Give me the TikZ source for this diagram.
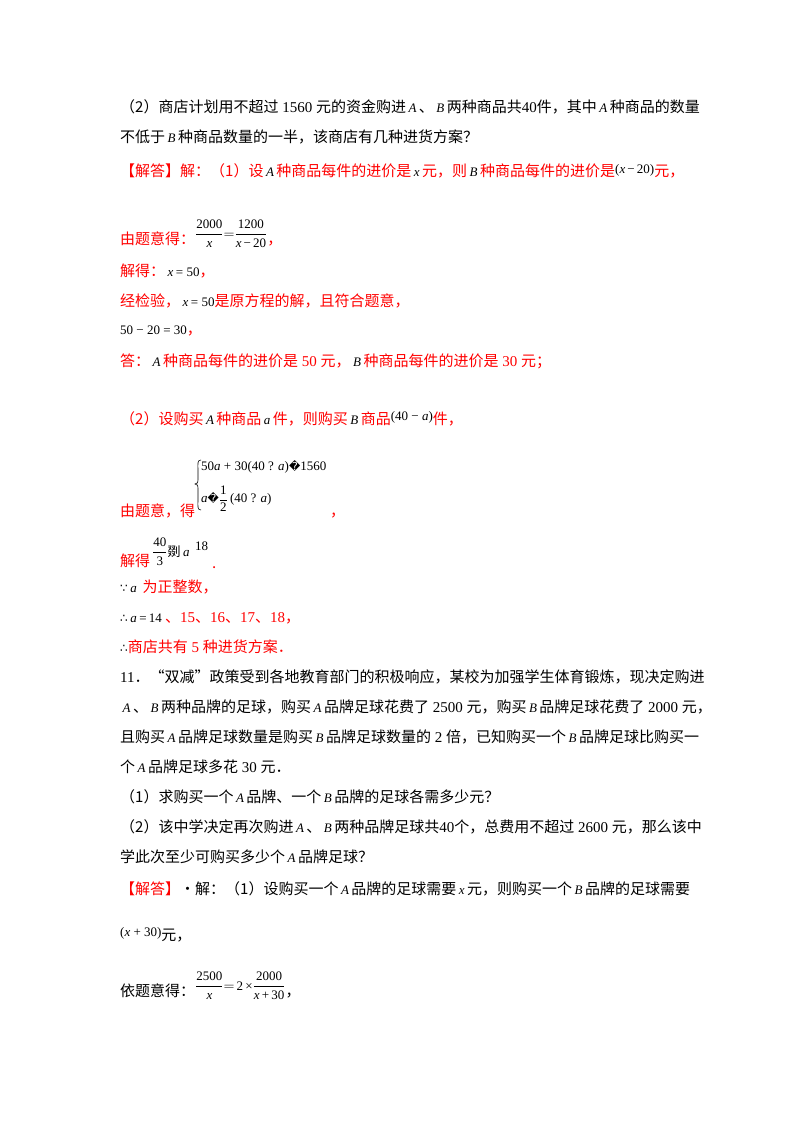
\documentclass[tikz,border=0pt]{standalone}
\usepackage{fontspec}
\setmainfont{Noto Sans CJK SC}
\newfontfamily\tms{Liberation Serif}
\newfontfamily\djv{DejaVu Sans}
\newcommand{\m}[1]{{\tms #1}}
\newcommand{\mi}[1]{\,{\tms\itshape\fontsize{13}{15}\selectfont #1}\,}
\newcommand{\fr}[2]{\ensuremath{\dfrac{\hbox{\fontsize{13}{15}\selectfont\tms #1}}{\hbox{\fontsize{13}{15}\selectfont\tms #2}}}}
\usepackage{amsmath}
\definecolor{rd}{RGB}{255,0,0}
\begin{document}
\begin{tikzpicture}[x=1pt,y=-1pt,
  t/.style={anchor=base west,inner sep=0pt,font=\fontsize{15}{18}\selectfont},
  r/.style={t,text=rd}]
\useasboundingbox[fill=white] (0,0) rectangle (800,1132);
\node[t] (l1) at (120,112) {（2）商店计划用不超过\m{ 1560 }元的资金购进\mi{A}、\mi{B}两种商品共\m{40}件，其中\mi{A}种商品的数量};
\node[t] (l2) at (120,142) {不低于\mi{B}种商品数量的一半，该商店有几种进货方案？};
\node[r] (l3) at (120,176) {【解答】解：（1）设\textcolor{black}{\mi{A}}种商品每件的进价是\textcolor{black}{\mi{x}}元，则\textcolor{black}{\mi{B}}种商品每件的进价是\raisebox{3pt}{\textcolor{black}{\m{\fontsize{13}{15}\selectfont(\textit{x}\,−\,20)}}}元，};
\node[r] (l4) at (120,244) {由题意得：\raisebox{6pt}{\textcolor{black}{\fr{2000}{\textit{x}}$=$\fr{1200}{\textit{x}\,−\,20}}}，};
\node[r] (l5) at (120,276) {解得：\textcolor{black}{\mi{x}\m{\fontsize{13}{15}\selectfont = 50}}，};
\node[r] (l6) at (120,306) {经检验，\textcolor{black}{\mi{x}\m{\fontsize{13}{15}\selectfont = 50}}是原方程的解，且符合题意，};
\node[r] (l7) at (120,334) {\textcolor{black}{\m{\fontsize{13}{15}\selectfont 50 − 20 = 30}}，};
\node[r] (l8) at (120,366) {答：\textcolor{black}{\mi{A}}种商品每件的进价是\m{ 50 }元，\textcolor{black}{\mi{B}}种商品每件的进价是\m{ 30 }元；};
\node[r] (l9) at (120,424) {（2）设购买\textcolor{black}{\mi{A}}种商品\textcolor{black}{\mi{a}}件，则购买\textcolor{black}{\mi{B}}商品\raisebox{4pt}{\textcolor{black}{\m{\fontsize{13}{15}\selectfont(40 − \textit{a})}}}件，};
\node[r] (l10) at (120,516) {由题意，得};
\draw[black,line width=0.6pt] (201,460) .. controls (197,460) and (198,464) .. (198,470) -- (198,480) .. controls (198,483) .. (195,484) .. controls (198,485) .. (198,488) -- (198,500) .. controls (198,506) and (197,510) .. (201,510);
\node[t] (s1) at (201,470) {\m{\fontsize{13}{15}\selectfont 50\textit{a} + 30(40 ? \textit{a}){\djv\fontsize{11}{13}\selectfont �}1560}};
\node[t] (s2) at (201,502) {\m{\fontsize{13}{15}\selectfont \textit{a}{\djv\fontsize{11}{13}\selectfont �}\raisebox{-1pt}{\fr{1}{2}}\,(40 ? \textit{a})}};
\node[r] (c1) at (330,516) {，};
\node[r] (l11) at (120,566) {解得};
\node[t] (f1) at (152,556) {\fr{40}{3}{\fontsize{13}{15}\selectfont 剟}\mi{a}};
\node[t] (f2) at (195,550) {\m{\fontsize{13}{15}\selectfont 18}};
\node[r] (c2) at (212,568) {.};
\node[r] (l12) at (120,592) {\textcolor{black}{{\djv\fontsize{12}{14}\selectfont ∵}\mi{a}} 为正整数，};
\node[r] (l13) at (120,622) {\textcolor{black}{{\djv\fontsize{12}{14}\selectfont ∴}\mi{a}\m{\fontsize{13}{15}\selectfont =\,14}}\ 、\m{15}、\m{16}、\m{17}、\m{18}，};
\node[r] (l14) at (120,652) {\textcolor{black}{{\djv\fontsize{12}{14}\selectfont ∴}}商店共有\m{ 5 }种进货方案．};
\node[t] (l15) at (120,682) {\m{11}．“双减”政策受到各地教育部门的积极响应，某校为加强学生体育锻炼，现决定购进};
\node[t] (l16) at (120,712) {\mi{A}、\mi{B}两种品牌的足球，购买\mi{A}品牌足球花费了\m{ 2500 }元，购买\mi{B}品牌足球花费了\m{ 2000 }元，};
\node[t] (l17) at (120,742) {且购买\mi{A}品牌足球数量是购买\mi{B}品牌足球数量的\m{ 2 }倍，已知购买一个\mi{B}品牌足球比购买一};
\node[t] (l18) at (120,772) {个\mi{A}品牌足球多花\m{ 30 }元．};
\node[t] (l19) at (120,802) {（1）求购买一个\mi{A}品牌、一个\mi{B}品牌的足球各需多少元？};
\node[t] (l20) at (120,832) {（2）该中学决定再次购进\mi{A}、\mi{B}两种品牌足球共\m{40}个，总费用不超过\m{ 2600 }元，那么该中};
\node[t] (l21) at (120,862) {学此次至少可购买多少个\mi{A}品牌足球？};
\node[t] (l22) at (120,894) {\textcolor{rd}{【解答】}·解：（1）设购买一个\mi{A}品牌的足球需要\mi{x}元，则购买一个\mi{B}品牌的足球需要};
\node[t] (l23) at (120,940) {\raisebox{4pt}{\m{\fontsize{13}{15}\selectfont(\textit{x} + 30)}}元，};
\node[t] (l24) at (120,996) {依题意得：\raisebox{6pt}{\fr{2500}{\textit{x}}$=$\m{\fontsize{13}{15}\selectfont\,2\,×}\fr{2000}{\textit{x}\,+\,30}}，};
\end{tikzpicture}
\end{document}
